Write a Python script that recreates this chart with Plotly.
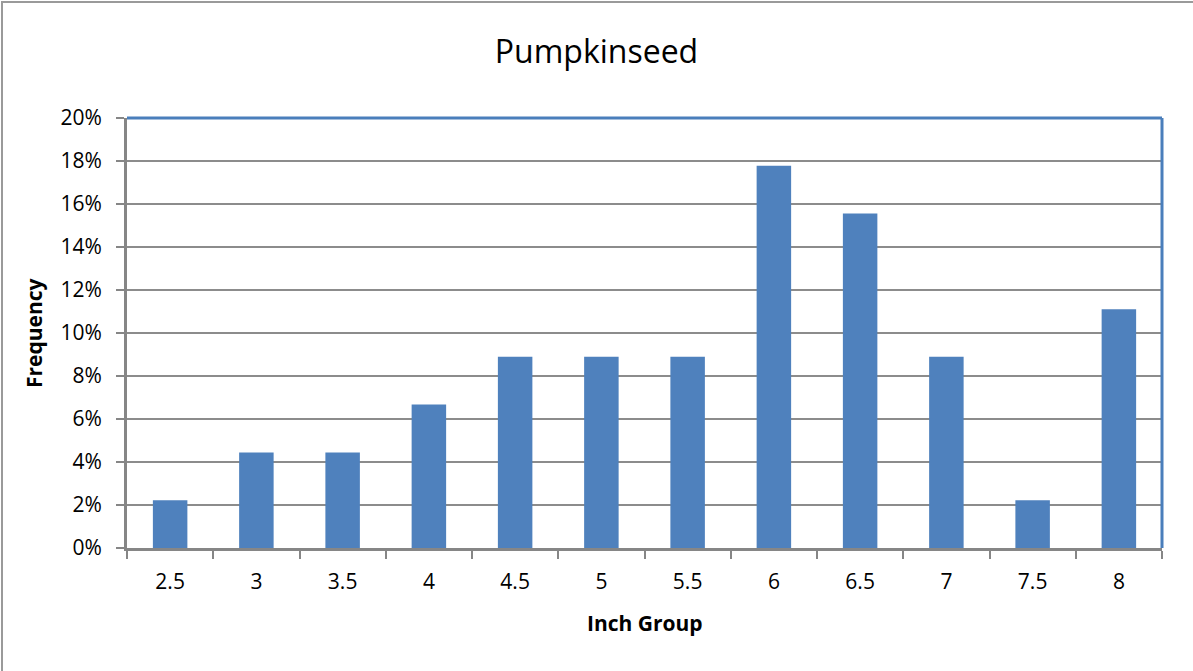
import plotly.graph_objects as go

categories = ["2.5", "3", "3.5", "4", "4.5", "5", "5.5", "6", "6.5", "7", "7.5", "8"]
frequency = [0.0222, 0.0444, 0.0444, 0.0667, 0.0889, 0.0889, 0.0889, 0.1778, 0.1556, 0.0889, 0.0222, 0.1111]
y_ticks = [0, 0.02, 0.04, 0.06, 0.08, 0.10, 0.12, 0.14, 0.16, 0.18, 0.20]
y_ticktext = ["0%", "2%", "4%", "6%", "8%", "10%", "12%", "14%", "16%", "18%", "20%"]

FONT = "'Open Sans', Lato, sans-serif"
W, H = 1193, 671
L, R, T, B = 127, 31, 118, 123
PW, PH = W - L - R, H - T - B

fig = go.Figure(go.Bar(x=categories, y=frequency, marker=dict(color="#4f81bd", line=dict(width=0))))

fig.update_layout(
    width=W, height=H,
    margin=dict(l=L, r=R, t=T, b=B),
    paper_bgcolor="white", plot_bgcolor="white",
    bargap=0.6,
    showlegend=False,
    font=dict(family=FONT, color="black", size=21),
    title=dict(text="Pumpkinseed", x=0.5, xanchor="center", y=1 - 52 / H, yanchor="middle",
               font=dict(size=32, family=FONT, color="black")),
    xaxis=dict(
        type="category",
        tickson="boundaries", ticks="outside", ticklen=8, tickcolor="#868686", tickwidth=2,
        showline=True, linecolor="#868686", linewidth=3,
        showgrid=False,
        tickfont=dict(size=21, family=FONT),
        ticklabelstandoff=13,
    ),
    yaxis=dict(
        range=[0, 0.20], tickvals=y_ticks, ticktext=y_ticktext,
        ticks="outside", ticklen=8, tickcolor="#868686", tickwidth=2,
        showline=True, linecolor="#868686", linewidth=3,
        showgrid=True, gridcolor="#8c8c8c", gridwidth=2,
        zeroline=False,
        tickfont=dict(size=21, family=FONT),
        ticklabelstandoff=10,
    ),
    annotations=[
        dict(text="<b>Inch Group</b>", xref="paper", yref="paper", x=0.5,
             y=-(623 - (T + PH)) / PH, xanchor="center", yanchor="middle", showarrow=False,
             font=dict(size=21, family=FONT, color="black")),
        dict(text="<b>Frequency</b>", xref="paper", yref="paper", x=-(L - 34) / PW,
             y=0.5, xanchor="center", yanchor="middle", textangle=-90, showarrow=False,
             font=dict(size=21, family=FONT, color="black")),
    ],
    shapes=[
        dict(type="line", xref="paper", yref="paper", x0=0, x1=1, y0=1, y1=1,
             line=dict(color="#4a7ebb", width=3)),
        dict(type="line", xref="paper", yref="paper", x0=1, x1=1, y0=0, y1=1,
             line=dict(color="#4a7ebb", width=3)),
        dict(type="rect", xref="paper", yref="paper",
             x0=-(L - 2) / PW, x1=1.2, y0=-1.0, y1=1 + (T - 2) / PH,
             line=dict(color="#9a9a9a", width=2), fillcolor="rgba(0,0,0,0)", layer="below"),
    ],
)

fig.write_html("out.html", config={"displayModeBar": False},
               post_script="document.body.style.margin='0';document.body.style.overflow='hidden';")
